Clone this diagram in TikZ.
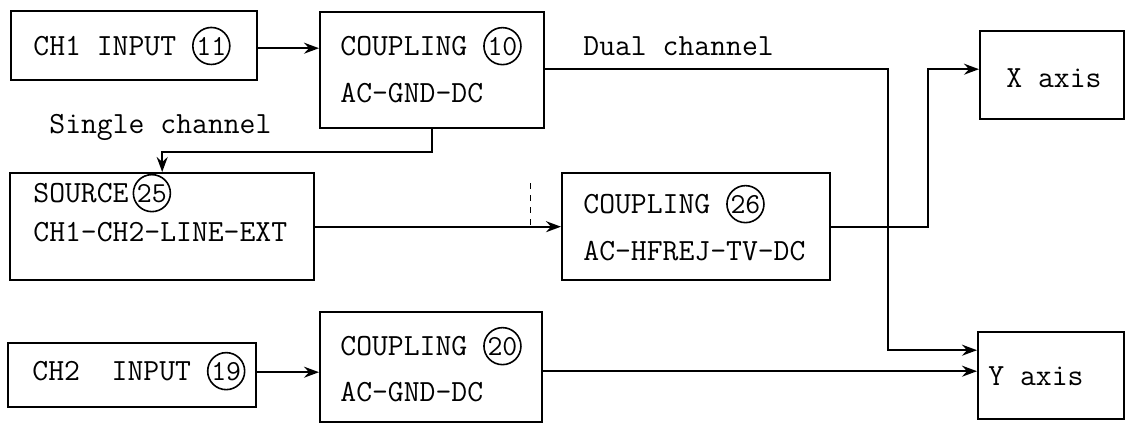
\documentclass[tikz,border=0pt]{standalone}
\usepackage{fontspec}
\usetikzlibrary{arrows.meta,calc}
\tikzset{
  blk/.style={draw,line width=1.2pt,anchor=north west,inner sep=0pt},
  lbl/.style={anchor=base west,inner sep=0pt,font=\fontsize{15.4}{18}\selectfont\ttfamily},
  wire/.style={line width=1pt},
  arr/.style={wire,-{Stealth[length=7.5pt,width=5.5pt,inset=2.5pt]}},
}
\newcommand{\cnum}[1]{\tikz[baseline=(cn.base)]\node[circle,draw,line width=0.8pt,inner sep=0pt,minimum size=18.5pt,font=\fontsize{14.5}{14.5}\selectfont\ttfamily](cn){\kern-0.6pt#1\kern-0.6pt};}
\begin{document}
\begin{tikzpicture}[x=0.5pt,y=-0.5pt]
\useasboundingbox (0,0) rectangle (1126,423);
% boxes
\node[blk,minimum width=123pt,minimum height=34.5pt] (ch1) at (10,10) {};
\node[blk,minimum width=112pt,minimum height=58pt] (c10) at (319,11) {};
\node[blk,minimum width=152pt,minimum height=53.5pt] (src) at (9,172) {};
\node[blk,minimum width=134pt,minimum height=53.5pt] (c26) at (561,172) {};
\node[blk,minimum width=124pt,minimum height=32pt] (ch2) at (7,342) {};
\node[blk,minimum width=111pt,minimum height=55pt] (c20) at (319,311) {};
\node[blk,minimum width=72pt,minimum height=44pt] (xaxis) at (979,30) {};
\node[blk,minimum width=73pt,minimum height=43.5pt] (yaxis) at (977,331) {};
% texts
\node[lbl] (tch1) at (33,55) {CH1 INPUT \cnum{11}};
\node[lbl] (tc10a) at (340,55) {COUPLING \cnum{10}};
\node[lbl] (tc10b) at (340,102) {AC-GND-DC};
\node[lbl] (tsrca) at (33,202) {SOURCE\kern2pt\cnum{25}};
\node[lbl] (tsrcb) at (33,241) {CH1-CH2-LINE-EXT};
\node[lbl] (tc26a) at (583,213) {COUPLING \cnum{26}};
\node[lbl] (tc26b) at (583,260) {AC-HFREJ-TV-DC};
\node[lbl] (tch2) at (32,380) {CH2\ \ INPUT \cnum{19}};
\node[lbl] (tc20a) at (340,355) {COUPLING \cnum{20}};
\node[lbl] (tc20b) at (340,401) {AC-GND-DC};
\node[lbl] (tx) at (1006,87) {X axis};
\node[lbl] (ty) at (988,385) {Y axis};
\node[lbl] (tsingle) at (49,133) {Single channel};
\node[lbl] (tdual) at (583,55) {Dual channel};
% helper coordinates
\coordinate (dv) at (888,0);
\coordinate (xv) at (928,0);
\coordinate (sj) at (0,152);
\coordinate (yin) at ([yshift=12.75pt]yaxis.west);
\coordinate (xin) at ([yshift=3pt]xaxis.west);
% connectors
\draw[arr] ([yshift=-1.25pt]ch1.east) -- ([yshift=-1.25pt]ch1.east -| c10.west);
\draw[arr] ([yshift=0.5pt]c10.east) -| (dv |- yin) -- (yin);
\draw[arr] (c10.south) -- (c10.south |- sj) -- (src.north |- sj) -- (src.north);
\draw[arr] (src.east) -- (c26.west);
\draw[arr] (c26.east) -| (xv |- xin) -- (xin);
\draw[arr] ([yshift=1.5pt]ch2.east) -- ([yshift=1.5pt]ch2.east -| c20.west);
\draw[arr] ([yshift=-2pt]c20.east) -- ([yshift=-2pt]c20.east -| yaxis.west);
\draw[line width=0.5pt,dash pattern=on 3pt off 3pt] (530,183) -- (530,230);
\end{tikzpicture}
\end{document}
